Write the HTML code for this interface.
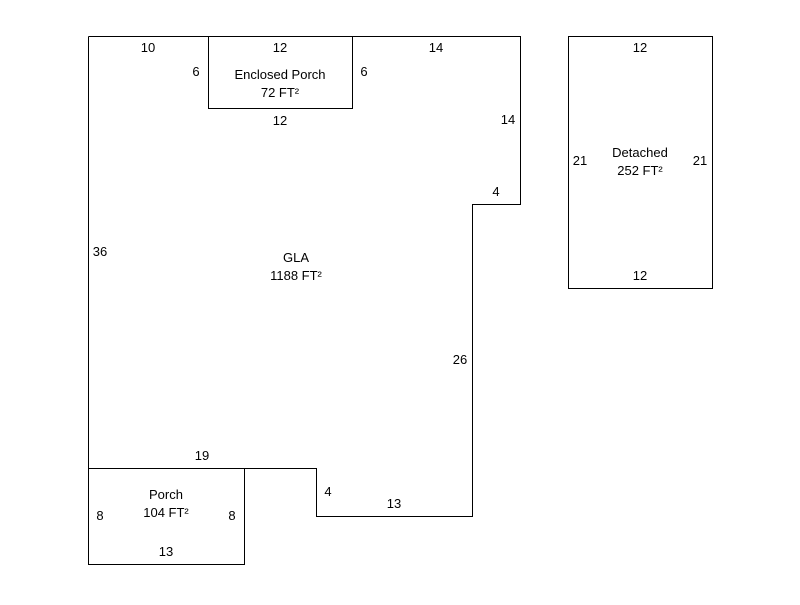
<!DOCTYPE html>
<html><head><meta charset="utf-8"><style>
html,body{margin:0;padding:0;background:#fff;}
svg text{font-family:"Liberation Sans",Arial,sans-serif;font-size:13px;fill:#000;text-anchor:middle;}
</style></head><body>
<svg width="800" height="600" viewBox="0 0 800 600" xmlns="http://www.w3.org/2000/svg">
<g fill="none" stroke="#000" stroke-width="1">
<polyline points="88.5,36.5 520.5,36.5 520.5,204.5 472.5,204.5 472.5,516.5 316.5,516.5 316.5,468.5 88.5,468.5 88.5,36.5"/>
<rect x="208.5" y="36.5" width="144" height="72"/>
<rect x="88.5" y="468.5" width="156" height="96"/>
<rect x="568.5" y="36.5" width="144" height="252"/>
</g>
<text x="148" y="52">10</text>
<text x="280" y="52">12</text>
<text x="436" y="52">14</text>
<text x="196" y="76">6</text>
<text x="364" y="76">6</text>
<text x="280" y="79">Enclosed Porch</text>
<text x="280" y="97">72 FT²</text>
<text x="280" y="125">12</text>
<text x="508" y="124">14</text>
<text x="496" y="196">4</text>
<text x="100" y="256">36</text>
<text x="296" y="262">GLA</text>
<text x="296" y="280">1188 FT²</text>
<text x="460" y="364">26</text>
<text x="202" y="460">19</text>
<text x="328" y="496">4</text>
<text x="394" y="508">13</text>
<text x="166" y="499">Porch</text>
<text x="166" y="517">104 FT²</text>
<text x="100" y="520">8</text>
<text x="232" y="520">8</text>
<text x="166" y="556">13</text>
<text x="640" y="52">12</text>
<text x="640" y="157">Detached</text>
<text x="640" y="175">252 FT²</text>
<text x="580" y="165">21</text>
<text x="700" y="165">21</text>
<text x="640" y="280">12</text>
</svg>
</body></html>
